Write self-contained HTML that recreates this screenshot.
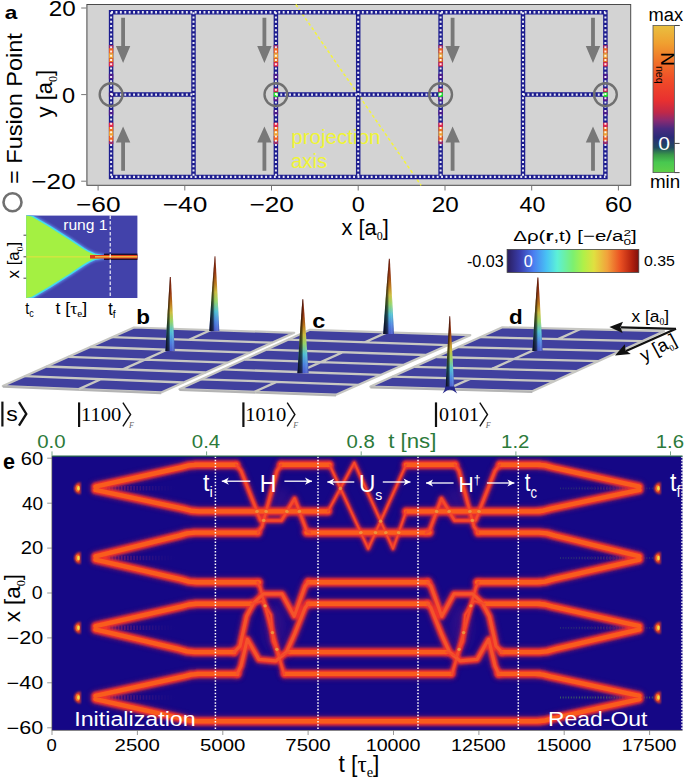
<!DOCTYPE html>
<html><head><meta charset="utf-8"><style>
html,body{margin:0;padding:0;background:#fff;width:685px;height:779px;overflow:hidden}
svg{display:block}
</style></head><body>
<svg width="685" height="779" viewBox="0 0 685 779">
<rect x="86.9" y="4.5" width="543.8" height="180.8" fill="#d3d3d3" stroke="#4a4a4a" stroke-width="1"/>
<text x="0" y="0" font-size="20.3" font-family='"Liberation Sans", sans-serif' fill="#f0f535" transform="matrix(1.0140,0.0000,0.0000,1.0000,291.29,143.60)">projection</text>
<text x="0" y="0" font-size="20.3" font-family='"Liberation Sans", sans-serif' fill="#f0f535" transform="matrix(1.0086,0.0000,0.0000,1.0000,290.89,168.10)">axis</text>
<line x1="295.8" y1="4.5" x2="421.1" y2="185.4" stroke="#f4f43c" stroke-width="1.5" stroke-dasharray="3.2 2.4"/>
<path d="M111.1,12.3 H605.4 V176.9 H111.1 Z M193.5,12.3 V176.9 M275.9,12.3 V176.9 M358.2,12.3 V176.9 M440.6,12.3 V176.9 M523.0,12.3 V176.9 M111.1,94.6 H193.5 M275.9,94.6 H440.6 M523.0,94.6 H605.4" fill="none" stroke="#1c1c8e" stroke-width="4.5" stroke-linejoin="miter"/>
<rect x="108.9" y="45" width="4.4" height="3.1" fill="#9a2a6a"/>
<rect x="108.9" y="141.1" width="4.4" height="3.1" fill="#9a2a6a"/>
<rect x="108.9" y="48.1" width="4.4" height="5.0" fill="#f06020"/>
<rect x="108.9" y="136.1" width="4.4" height="5.0" fill="#f06020"/>
<rect x="108.9" y="53.1" width="4.4" height="5.0" fill="#f0a030"/>
<rect x="108.9" y="131.1" width="4.4" height="5.0" fill="#f0a030"/>
<rect x="108.9" y="58.1" width="4.4" height="4.2" fill="#f07020"/>
<rect x="108.9" y="126.9" width="4.4" height="4.2" fill="#f07020"/>
<rect x="108.9" y="62.3" width="4.4" height="4.2" fill="#e82848"/>
<rect x="108.9" y="122.7" width="4.4" height="4.2" fill="#e82848"/>
<rect x="108.9" y="73.8" width="4.4" height="5.4" fill="#4a1a8a"/>
<rect x="108.9" y="110.0" width="4.4" height="5.4" fill="#4a1a8a"/>
<rect x="108.9" y="92.4" width="4.4" height="4.4" fill="#3a1a7a"/>
<rect x="273.7" y="45" width="4.4" height="3.1" fill="#9a2a6a"/>
<rect x="273.7" y="141.1" width="4.4" height="3.1" fill="#9a2a6a"/>
<rect x="273.7" y="48.1" width="4.4" height="5.0" fill="#f06020"/>
<rect x="273.7" y="136.1" width="4.4" height="5.0" fill="#f06020"/>
<rect x="273.7" y="53.1" width="4.4" height="5.0" fill="#f0a030"/>
<rect x="273.7" y="131.1" width="4.4" height="5.0" fill="#f0a030"/>
<rect x="273.7" y="58.1" width="4.4" height="4.2" fill="#f07020"/>
<rect x="273.7" y="126.9" width="4.4" height="4.2" fill="#f07020"/>
<rect x="273.7" y="62.3" width="4.4" height="4.2" fill="#e82848"/>
<rect x="273.7" y="122.7" width="4.4" height="4.2" fill="#e82848"/>
<rect x="273.7" y="73.8" width="4.4" height="5.4" fill="#4a1a8a"/>
<rect x="273.7" y="110.0" width="4.4" height="5.4" fill="#4a1a8a"/>
<rect x="273.7" y="88.4" width="4.4" height="4" fill="#d02850"/>
<rect x="273.7" y="96.8" width="4.4" height="4" fill="#5a1a8a"/>
<rect x="273.7" y="92.4" width="4.4" height="4.4" fill="#22ee22"/>
<rect x="438.4" y="45" width="4.4" height="3.1" fill="#9a2a6a"/>
<rect x="438.4" y="141.1" width="4.4" height="3.1" fill="#9a2a6a"/>
<rect x="438.4" y="48.1" width="4.4" height="5.0" fill="#f06020"/>
<rect x="438.4" y="136.1" width="4.4" height="5.0" fill="#f06020"/>
<rect x="438.4" y="53.1" width="4.4" height="5.0" fill="#f0a030"/>
<rect x="438.4" y="131.1" width="4.4" height="5.0" fill="#f0a030"/>
<rect x="438.4" y="58.1" width="4.4" height="4.2" fill="#f07020"/>
<rect x="438.4" y="126.9" width="4.4" height="4.2" fill="#f07020"/>
<rect x="438.4" y="62.3" width="4.4" height="4.2" fill="#e82848"/>
<rect x="438.4" y="122.7" width="4.4" height="4.2" fill="#e82848"/>
<rect x="438.4" y="73.8" width="4.4" height="5.4" fill="#4a1a8a"/>
<rect x="438.4" y="110.0" width="4.4" height="5.4" fill="#4a1a8a"/>
<rect x="438.4" y="88.4" width="4.4" height="4" fill="#d02850"/>
<rect x="438.4" y="96.8" width="4.4" height="4" fill="#5a1a8a"/>
<rect x="438.4" y="92.4" width="4.4" height="4.4" fill="#22ee22"/>
<rect x="603.2" y="45" width="4.4" height="3.1" fill="#9a2a6a"/>
<rect x="603.2" y="141.1" width="4.4" height="3.1" fill="#9a2a6a"/>
<rect x="603.2" y="48.1" width="4.4" height="5.0" fill="#f06020"/>
<rect x="603.2" y="136.1" width="4.4" height="5.0" fill="#f06020"/>
<rect x="603.2" y="53.1" width="4.4" height="5.0" fill="#f0a030"/>
<rect x="603.2" y="131.1" width="4.4" height="5.0" fill="#f0a030"/>
<rect x="603.2" y="58.1" width="4.4" height="4.2" fill="#f07020"/>
<rect x="603.2" y="126.9" width="4.4" height="4.2" fill="#f07020"/>
<rect x="603.2" y="62.3" width="4.4" height="4.2" fill="#e82848"/>
<rect x="603.2" y="122.7" width="4.4" height="4.2" fill="#e82848"/>
<rect x="603.2" y="73.8" width="4.4" height="5.4" fill="#4a1a8a"/>
<rect x="603.2" y="110.0" width="4.4" height="5.4" fill="#4a1a8a"/>
<rect x="603.2" y="88.4" width="4.4" height="4" fill="#d02850"/>
<rect x="603.2" y="96.8" width="4.4" height="4" fill="#5a1a8a"/>
<rect x="603.2" y="92.4" width="4.4" height="4.4" fill="#22ee22"/>
<path d="M111.1,12.3 H605.4 M111.1,176.9 H605.4 M111.1,94.6 H193.5 M275.9,94.6 H440.6 M523.0,94.6 H605.4" fill="none" stroke="#ffffff" stroke-width="2.4" stroke-dasharray="1.9 2.5" opacity="0.9"/>
<path d="M111.1,12.3 V176.9 M605.4,12.3 V176.9 M193.5,12.3 V176.9 M275.9,12.3 V176.9 M358.2,12.3 V176.9 M440.6,12.3 V176.9 M523.0,12.3 V176.9" fill="none" stroke="#ffffff" stroke-width="2.0" stroke-dasharray="1.9 2.35" opacity="0.9"/>
<path d="M121.2,17.8 H125.0 V46 H130.3 L123.1,63 L115.9,46 H121.2 Z" fill="#787878"/>
<path d="M121.2,170.8 H125.0 V142.6 H130.3 L123.1,126.6 L115.9,142.6 H121.2 Z" fill="#787878"/>
<path d="M262.5,17.8 H266.3 V46 H271.6 L264.4,63 L257.2,46 H262.5 Z" fill="#787878"/>
<path d="M262.5,170.8 H266.3 V142.6 H271.6 L264.4,126.6 L257.2,142.6 H262.5 Z" fill="#787878"/>
<path d="M450.7,17.8 H454.5 V46 H459.8 L452.6,63 L445.4,46 H450.7 Z" fill="#787878"/>
<path d="M450.7,170.8 H454.5 V142.6 H459.8 L452.6,126.6 L445.4,142.6 H450.7 Z" fill="#787878"/>
<path d="M591.1,17.8 H594.9 V46 H600.2 L593.0,63 L585.8,46 H591.1 Z" fill="#787878"/>
<path d="M591.1,170.8 H594.9 V142.6 H600.2 L593.0,126.6 L585.8,142.6 H591.1 Z" fill="#787878"/>
<circle cx="111.1" cy="94.6" r="11.4" fill="none" stroke="#707070" stroke-width="2.4"/>
<circle cx="275.9" cy="94.6" r="11.4" fill="none" stroke="#707070" stroke-width="2.4"/>
<circle cx="440.6" cy="94.6" r="11.4" fill="none" stroke="#707070" stroke-width="2.4"/>
<circle cx="605.4" cy="94.6" r="11.4" fill="none" stroke="#707070" stroke-width="2.4"/>
<path d="M98.1,185.5 V190.5 M184.8,185.5 V190.5 M271.5,185.5 V190.5 M358.2,185.5 V190.5 M445.0,185.5 V190.5 M531.7,185.5 V190.5 M618.4,185.5 V190.5 M86.5,181.2 H81.2 M86.5,94.6 H81.2 M86.5,8.0 H81.2" stroke="#777" stroke-width="1"/>
<text x="0" y="0" font-size="20.5" font-family='"Liberation Sans", sans-serif' fill="#000" transform="matrix(1.2818,0.0000,0.0000,1.0929,75.96,212.30)">−60</text>
<text x="0" y="0" font-size="20.5" font-family='"Liberation Sans", sans-serif' fill="#000" transform="matrix(1.2818,0.0000,0.0000,1.0929,162.68,212.30)">−40</text>
<text x="0" y="0" font-size="20.5" font-family='"Liberation Sans", sans-serif' fill="#000" transform="matrix(1.2818,0.0000,0.0000,1.0929,249.40,212.30)">−20</text>
<text x="0" y="0" font-size="20.5" font-family='"Liberation Sans", sans-serif' fill="#000" transform="matrix(1.1500,0.0000,0.0000,1.0929,351.65,212.30)">0</text>
<text x="0" y="0" font-size="20.5" font-family='"Liberation Sans", sans-serif' fill="#000" transform="matrix(1.1833,0.0000,0.0000,1.0929,431.66,212.30)">20</text>
<text x="0" y="0" font-size="20.5" font-family='"Liberation Sans", sans-serif' fill="#000" transform="matrix(1.1295,0.0000,0.0000,1.0929,519.57,212.30)">40</text>
<text x="0" y="0" font-size="20.5" font-family='"Liberation Sans", sans-serif' fill="#000" transform="matrix(1.1833,0.0000,0.0000,1.0929,605.10,212.30)">60</text>
<text x="0" y="0" font-size="20.5" font-family='"Liberation Sans", sans-serif' fill="#000" transform="matrix(1.1833,0.0000,0.0000,1.0929,48.67,16.05)">20</text>
<text x="0" y="0" font-size="20.5" font-family='"Liberation Sans", sans-serif' fill="#000" transform="matrix(1.1500,0.0000,0.0000,1.0929,62.05,102.65)">0</text>
<text x="0" y="0" font-size="20.5" font-family='"Liberation Sans", sans-serif' fill="#000" transform="matrix(1.2758,0.0000,0.0000,1.0929,31.32,189.25)">−20</text>
<text x="0" y="0" font-size="20" font-family='"Liberation Sans", sans-serif' fill="#000" transform="matrix(1.0905,0.0000,0.0000,1.0800,341.60,235.10)">x [a<tspan font-size="11" dy="4.5" font-family='"Liberation Serif", serif'>0</tspan><tspan dy="-4.5">]</tspan></text>
<text x="0" y="0" font-size="20" font-family='"Liberation Sans", sans-serif' fill="#000" transform="matrix(0.0000,-1.1000,1.1400,0.0000,51.80,117.40)">y [a<tspan font-size="11" dy="4.5" font-family='"Liberation Serif", serif'>0</tspan><tspan dy="-4.5">]</tspan></text>
<text x="0" y="0" font-size="23" font-family='"Liberation Sans", sans-serif' fill="#000" transform="matrix(0.0000,-1.0218,0.9611,0.0000,21.80,183.92)">= Fusion Point</text>
<circle cx="12.5" cy="202.2" r="9.0" fill="none" stroke="#707070" stroke-width="2.6"/>
<text x="0" y="0" font-size="20" font-family='"Liberation Sans", sans-serif' font-weight="bold" fill="#000" transform="matrix(1.1300,0.0000,0.0000,0.9636,4.77,19.10)">a</text>
<defs><linearGradient id="gN" x1="0" y1="0" x2="0" y2="1"><stop offset="0" stop-color="#e8c040"/><stop offset="0.12" stop-color="#f0a030"/><stop offset="0.25" stop-color="#f07028"/><stop offset="0.38" stop-color="#f04a28"/><stop offset="0.51" stop-color="#e83030"/><stop offset="0.59" stop-color="#c02848"/><stop offset="0.645" stop-color="#8a2a70"/><stop offset="0.7" stop-color="#4a2a80"/><stop offset="0.76" stop-color="#2a2a78"/><stop offset="0.83" stop-color="#204a60"/><stop offset="0.88" stop-color="#3a9a48"/><stop offset="0.93" stop-color="#48c850"/><stop offset="1" stop-color="#60d048"/></linearGradient></defs>
<rect x="653" y="25.5" width="21.4" height="147.1" fill="url(#gN)" stroke="#555" stroke-width="0.8"/>
<path d="M674.4,25.5 H679.8 M674.4,143.4 H679.6 M674.4,172.6 H679.6" stroke="#444" stroke-width="1"/>
<text x="0" y="0" font-size="18.6" font-family='"Liberation Sans", sans-serif' fill="#000" transform="matrix(0.9824,0.0000,0.0000,0.9600,648.62,21.20)">max</text>
<text x="0" y="0" font-size="18.6" font-family='"Liberation Sans", sans-serif' fill="#000" transform="matrix(1.0107,0.0000,0.0000,0.9923,649.89,188.00)">min</text>
<text x="0" y="0" font-size="18" font-family='"Liberation Sans", sans-serif' fill="#fff" transform="matrix(1.1750,0.0000,0.0000,1.0538,658.23,150.00)">0</text>
<text x="0" y="0" font-size="18" font-family='"Liberation Sans", sans-serif' fill="#000" transform="matrix(0.0000,1.0536,-1.0050,0.0000,660.53,52.25)">N<tspan font-size="10" dy="4.5">neq</tspan></text>
<defs><clipPath id="clipE"><rect x="52" y="456" width="630.5" height="274.3"/></clipPath><filter id="bl1" x="-20%" y="-20%" width="140%" height="140%"><feGaussianBlur stdDeviation="1.1"/></filter><filter id="bl2" x="-20%" y="-20%" width="140%" height="140%"><feGaussianBlur stdDeviation="2.2"/></filter><filter id="bl05" x="-20%" y="-20%" width="140%" height="140%"><feGaussianBlur stdDeviation="0.6"/></filter></defs>
<rect x="52" y="456" width="630.5" height="274.3" fill="#150786"/>
<g clip-path="url(#clipE)" fill="none" stroke-linejoin="round" stroke-linecap="round">
<defs><filter id="bl4" x="-50%" y="-50%" width="200%" height="200%"><feGaussianBlur stdDeviation="4"/></filter></defs>
<ellipse cx="275" cy="628" rx="11" ry="24" fill="#5a1a8a" opacity="0.35" filter="url(#bl4)"/>
<ellipse cx="461.0" cy="628" rx="11" ry="24" fill="#5a1a8a" opacity="0.35" filter="url(#bl4)"/>
<ellipse cx="280" cy="500" rx="11" ry="13" fill="#5a1a8a" opacity="0.28" filter="url(#bl4)"/>
<ellipse cx="456.0" cy="500" rx="11" ry="13" fill="#5a1a8a" opacity="0.28" filter="url(#bl4)"/>
<defs><linearGradient id="gFL" gradientUnits="userSpaceOnUse" x1="92" y1="0" x2="176" y2="0"><stop offset="0" stop-color="#d03048" stop-opacity="0.95"/><stop offset="0.35" stop-color="#902868" stop-opacity="0.6"/><stop offset="1" stop-color="#402080" stop-opacity="0"/></linearGradient><linearGradient id="gFR" gradientUnits="userSpaceOnUse" x1="643" y1="0" x2="559" y2="0"><stop offset="0" stop-color="#d03048" stop-opacity="0.95"/><stop offset="0.35" stop-color="#902868" stop-opacity="0.6"/><stop offset="1" stop-color="#402080" stop-opacity="0"/></linearGradient><linearGradient id="gGap" gradientUnits="userSpaceOnUse" x1="80" y1="0" x2="92" y2="0"><stop offset="0" stop-color="#602070" stop-opacity="0.3"/><stop offset="1" stop-color="#a02850" stop-opacity="0.8"/></linearGradient></defs>
<path d="M93,488.3 H176" stroke="url(#gFL)" stroke-width="4.5" stroke-dasharray="1.6 1.5" stroke-linecap="butt"/>
<path d="M642,488.3 H559" stroke="url(#gFR)" stroke-width="4" stroke-dasharray="1.6 1.5" stroke-linecap="butt" opacity="0.55"/>
<path d="M81,488.3 H92" stroke="url(#gGap)" stroke-width="5" stroke-dasharray="1.2 1.6" stroke-linecap="butt" filter="url(#bl05)"/>
<path d="M560,488.3 H653" stroke="#58a048" stroke-opacity="0.25" stroke-width="1.8" stroke-dasharray="1 1.7" stroke-linecap="butt"/>
<path d="M654,488.3 H643" stroke="#702070" stroke-opacity="0.45" stroke-width="5" stroke-dasharray="1.2 1.6" stroke-linecap="butt" filter="url(#bl05)"/>
<path d="M93,558.0 H176" stroke="url(#gFL)" stroke-width="4.5" stroke-dasharray="1.6 1.5" stroke-linecap="butt"/>
<path d="M642,558.0 H559" stroke="url(#gFR)" stroke-width="4" stroke-dasharray="1.6 1.5" stroke-linecap="butt" opacity="0.55"/>
<path d="M81,558.0 H92" stroke="url(#gGap)" stroke-width="5" stroke-dasharray="1.2 1.6" stroke-linecap="butt" filter="url(#bl05)"/>
<path d="M560,558.0 H653" stroke="#58a048" stroke-opacity="0.25" stroke-width="1.8" stroke-dasharray="1 1.7" stroke-linecap="butt"/>
<path d="M654,558.0 H643" stroke="#702070" stroke-opacity="0.45" stroke-width="5" stroke-dasharray="1.2 1.6" stroke-linecap="butt" filter="url(#bl05)"/>
<path d="M93,627.8 H176" stroke="url(#gFL)" stroke-width="4.5" stroke-dasharray="1.6 1.5" stroke-linecap="butt"/>
<path d="M642,627.8 H559" stroke="url(#gFR)" stroke-width="4" stroke-dasharray="1.6 1.5" stroke-linecap="butt" opacity="0.55"/>
<path d="M81,627.8 H92" stroke="url(#gGap)" stroke-width="5" stroke-dasharray="1.2 1.6" stroke-linecap="butt" filter="url(#bl05)"/>
<path d="M560,627.8 H653" stroke="#58a048" stroke-opacity="0.25" stroke-width="1.8" stroke-dasharray="1 1.7" stroke-linecap="butt"/>
<path d="M654,627.8 H643" stroke="#702070" stroke-opacity="0.45" stroke-width="5" stroke-dasharray="1.2 1.6" stroke-linecap="butt" filter="url(#bl05)"/>
<path d="M93,697.5 H176" stroke="url(#gFL)" stroke-width="4.5" stroke-dasharray="1.6 1.5" stroke-linecap="butt"/>
<path d="M642,697.5 H559" stroke="url(#gFR)" stroke-width="4" stroke-dasharray="1.6 1.5" stroke-linecap="butt" opacity="0.55"/>
<path d="M81,697.5 H92" stroke="url(#gGap)" stroke-width="5" stroke-dasharray="1.2 1.6" stroke-linecap="butt" filter="url(#bl05)"/>
<path d="M560,697.5 H653" stroke="#58a048" stroke-opacity="0.55" stroke-width="1.8" stroke-dasharray="1 1.7" stroke-linecap="butt"/>
<path d="M654,697.5 H643" stroke="#702070" stroke-opacity="0.45" stroke-width="5" stroke-dasharray="1.2 1.6" stroke-linecap="butt" filter="url(#bl05)"/>
<path d="M95.5,486.7 L181.0,467.5 L189.0,465.4 L197.0,464.7 M639.4,486.7 L553.0,467.5 L545.0,465.4 L537.0,464.7 M95.5,489.9 L183.0,508.6 L191.0,510.7 L199.0,511.4 M639.4,489.9 L551.0,508.6 L543.0,510.7 L535.0,511.4 M95.5,556.4 L179.0,535.6 L187.0,533.4 L195.0,532.6 M639.4,556.4 L555.0,535.6 L547.0,533.4 L539.0,532.6 M95.5,559.6 L181.0,579.4 L189.0,581.6 L197.0,582.3 M639.4,559.6 L553.0,579.4 L545.0,581.6 L537.0,582.3 M95.5,626.2 L181.0,606.7 L189.0,604.5 L197.0,603.8 M639.4,626.2 L553.0,606.7 L545.0,604.5 L537.0,603.8 M95.5,629.4 L179.0,649.2 L187.0,651.4 L195.0,652.1 M639.4,629.4 L555.0,649.2 L547.0,651.4 L539.0,652.1 M95.5,695.9 L183.0,676.7 L191.0,674.6 L199.0,673.9 M639.4,695.9 L551.0,676.7 L543.0,674.6 L535.0,673.9 M95.5,699.1 L181.0,718.4 L189.0,720.5 L197.0,721.2 M639.4,699.1 L553.0,718.4 L545.0,720.5 L537.0,721.2 M195.0,464.7 L236.2,464.7 M281.0,464.7 L329.5,464.7 M406.1,464.7 L455.0,464.7 M499.8,464.7 L540.0,464.7 M197.0,511.4 L328.0,511.4 M406.1,511.4 L540.0,511.4 M193.0,532.6 L257.9,532.6 M306.5,532.6 L429.5,532.6 M478.1,532.6 L540.0,532.6 M195.0,582.3 L258.9,582.3 M308.2,582.3 L427.8,582.3 M477.1,582.3 L540.0,582.3 M195.0,603.8 L251.2,603.8 M308.2,603.8 L427.8,603.8 M484.8,603.8 L540.0,603.8 M193.0,652.1 L234.2,652.1 M289.7,652.1 L446.3,652.1 M501.8,652.1 L540.0,652.1 M197.0,673.9 L237.3,673.9 M285.0,673.9 L451.0,673.9 M498.7,673.9 L540.0,673.9 M195.0,721.2 L540.0,721.2" stroke="#8a1a62" stroke-width="11.5" opacity="0.6" filter="url(#bl2)"/>
<path d="M236.2,464.7 L241.0,470.7 L260.5,520.4 L281.5,520.4 L294.6,498.5 L306.5,530.6 L310.0,532.6 M499.8,464.7 L495.0,470.7 L475.5,520.4 L454.5,520.4 L441.4,498.5 L429.5,530.6 L426.0,532.6 M257.9,532.6 L262.0,526.6 L277.0,470.7 L281.0,464.7 M478.1,532.6 L474.0,526.6 L459.0,470.7 L455.0,464.7 M257.5,582.3 L260.0,587.0 L279.5,659.0 L284.0,673.9 M478.5,582.3 L476.0,587.0 L456.5,659.0 L452.0,673.9" stroke="#8a1a62" stroke-width="8.5" opacity="0.55" filter="url(#bl2)"/>
<path d="M251.2,603.8 L262.0,601.0 L271.0,615.0 L273.0,641.0 L280.0,656.0 L289.7,652.1 M484.8,603.8 L474.0,601.0 L465.0,615.0 L463.0,641.0 L456.0,656.0 L446.3,652.1 M329.5,464.7 L368.2,548.7 L406.1,464.7 M328.0,511.4 L354.3,462.6 L393.0,548.7 L406.1,511.4" stroke="#8a1a62" stroke-width="7" opacity="0.5" filter="url(#bl2)"/>
<path d="M234.2,652.1 L240.0,646.1 L246.6,616.2 L253.5,603.1 L263.5,593.9 L282.0,593.9 L294.3,616.2 L305.0,586.3 L308.2,582.3 M501.8,652.1 L496.0,646.1 L489.4,616.2 L482.5,603.1 L472.5,593.9 L454.0,593.9 L441.7,616.2 L431.0,586.3 L427.8,582.3 M237.3,673.9 L241.0,665.9 L247.3,639.3 L258.9,659.4 L275.8,660.9 L286.6,652.0 L294.3,634.7 L305.0,607.8 L308.2,603.8 M498.7,673.9 L495.0,665.9 L488.7,639.3 L477.1,659.4 L460.2,660.9 L449.4,652.0 L441.7,634.7 L431.0,607.8 L427.8,603.8" stroke="#8a1a62" stroke-width="10.5" opacity="0.55" filter="url(#bl2)"/>
<path d="M95.5,486.7 L181.0,467.5 L189.0,465.4 L197.0,464.7 M639.4,486.7 L553.0,467.5 L545.0,465.4 L537.0,464.7 M95.5,489.9 L183.0,508.6 L191.0,510.7 L199.0,511.4 M639.4,489.9 L551.0,508.6 L543.0,510.7 L535.0,511.4 M95.5,556.4 L179.0,535.6 L187.0,533.4 L195.0,532.6 M639.4,556.4 L555.0,535.6 L547.0,533.4 L539.0,532.6 M95.5,559.6 L181.0,579.4 L189.0,581.6 L197.0,582.3 M639.4,559.6 L553.0,579.4 L545.0,581.6 L537.0,582.3 M95.5,626.2 L181.0,606.7 L189.0,604.5 L197.0,603.8 M639.4,626.2 L553.0,606.7 L545.0,604.5 L537.0,603.8 M95.5,629.4 L179.0,649.2 L187.0,651.4 L195.0,652.1 M639.4,629.4 L555.0,649.2 L547.0,651.4 L539.0,652.1 M95.5,695.9 L183.0,676.7 L191.0,674.6 L199.0,673.9 M639.4,695.9 L551.0,676.7 L543.0,674.6 L535.0,673.9 M95.5,699.1 L181.0,718.4 L189.0,720.5 L197.0,721.2 M639.4,699.1 L553.0,718.4 L545.0,720.5 L537.0,721.2 M195.0,464.7 L236.2,464.7 M281.0,464.7 L329.5,464.7 M406.1,464.7 L455.0,464.7 M499.8,464.7 L540.0,464.7 M197.0,511.4 L328.0,511.4 M406.1,511.4 L540.0,511.4 M193.0,532.6 L257.9,532.6 M306.5,532.6 L429.5,532.6 M478.1,532.6 L540.0,532.6 M195.0,582.3 L258.9,582.3 M308.2,582.3 L427.8,582.3 M477.1,582.3 L540.0,582.3 M195.0,603.8 L251.2,603.8 M308.2,603.8 L427.8,603.8 M484.8,603.8 L540.0,603.8 M193.0,652.1 L234.2,652.1 M289.7,652.1 L446.3,652.1 M501.8,652.1 L540.0,652.1 M197.0,673.9 L237.3,673.9 M285.0,673.9 L451.0,673.9 M498.7,673.9 L540.0,673.9 M195.0,721.2 L540.0,721.2" stroke="#f0302a" stroke-width="8.4" filter="url(#bl1)"/>
<path d="M236.2,464.7 L241.0,470.7 L260.5,520.4 L281.5,520.4 L294.6,498.5 L306.5,530.6 L310.0,532.6 M499.8,464.7 L495.0,470.7 L475.5,520.4 L454.5,520.4 L441.4,498.5 L429.5,530.6 L426.0,532.6 M257.9,532.6 L262.0,526.6 L277.0,470.7 L281.0,464.7 M478.1,532.6 L474.0,526.6 L459.0,470.7 L455.0,464.7 M257.5,582.3 L260.0,587.0 L279.5,659.0 L284.0,673.9 M478.5,582.3 L476.0,587.0 L456.5,659.0 L452.0,673.9" stroke="#f0302a" stroke-width="5.4" filter="url(#bl1)"/>
<path d="M251.2,603.8 L262.0,601.0 L271.0,615.0 L273.0,641.0 L280.0,656.0 L289.7,652.1 M484.8,603.8 L474.0,601.0 L465.0,615.0 L463.0,641.0 L456.0,656.0 L446.3,652.1 M329.5,464.7 L368.2,548.7 L406.1,464.7 M328.0,511.4 L354.3,462.6 L393.0,548.7 L406.1,511.4" stroke="#f0302a" stroke-width="4.2" filter="url(#bl1)"/>
<path d="M234.2,652.1 L240.0,646.1 L246.6,616.2 L253.5,603.1 L263.5,593.9 L282.0,593.9 L294.3,616.2 L305.0,586.3 L308.2,582.3 M501.8,652.1 L496.0,646.1 L489.4,616.2 L482.5,603.1 L472.5,593.9 L454.0,593.9 L441.7,616.2 L431.0,586.3 L427.8,582.3 M237.3,673.9 L241.0,665.9 L247.3,639.3 L258.9,659.4 L275.8,660.9 L286.6,652.0 L294.3,634.7 L305.0,607.8 L308.2,603.8 M498.7,673.9 L495.0,665.9 L488.7,639.3 L477.1,659.4 L460.2,660.9 L449.4,652.0 L441.7,634.7 L431.0,607.8 L427.8,603.8" stroke="#f0302a" stroke-width="7.0" filter="url(#bl1)"/>
<path d="M95.5,486.7 L181.0,467.5 L189.0,465.4 L197.0,464.7 M639.4,486.7 L553.0,467.5 L545.0,465.4 L537.0,464.7 M95.5,489.9 L183.0,508.6 L191.0,510.7 L199.0,511.4 M639.4,489.9 L551.0,508.6 L543.0,510.7 L535.0,511.4 M95.5,556.4 L179.0,535.6 L187.0,533.4 L195.0,532.6 M639.4,556.4 L555.0,535.6 L547.0,533.4 L539.0,532.6 M95.5,559.6 L181.0,579.4 L189.0,581.6 L197.0,582.3 M639.4,559.6 L553.0,579.4 L545.0,581.6 L537.0,582.3 M95.5,626.2 L181.0,606.7 L189.0,604.5 L197.0,603.8 M639.4,626.2 L553.0,606.7 L545.0,604.5 L537.0,603.8 M95.5,629.4 L179.0,649.2 L187.0,651.4 L195.0,652.1 M639.4,629.4 L555.0,649.2 L547.0,651.4 L539.0,652.1 M95.5,695.9 L183.0,676.7 L191.0,674.6 L199.0,673.9 M639.4,695.9 L551.0,676.7 L543.0,674.6 L535.0,673.9 M95.5,699.1 L181.0,718.4 L189.0,720.5 L197.0,721.2 M639.4,699.1 L553.0,718.4 L545.0,720.5 L537.0,721.2 M195.0,464.7 L236.2,464.7 M281.0,464.7 L329.5,464.7 M406.1,464.7 L455.0,464.7 M499.8,464.7 L540.0,464.7 M197.0,511.4 L328.0,511.4 M406.1,511.4 L540.0,511.4 M193.0,532.6 L257.9,532.6 M306.5,532.6 L429.5,532.6 M478.1,532.6 L540.0,532.6 M195.0,582.3 L258.9,582.3 M308.2,582.3 L427.8,582.3 M477.1,582.3 L540.0,582.3 M195.0,603.8 L251.2,603.8 M308.2,603.8 L427.8,603.8 M484.8,603.8 L540.0,603.8 M193.0,652.1 L234.2,652.1 M289.7,652.1 L446.3,652.1 M501.8,652.1 L540.0,652.1 M197.0,673.9 L237.3,673.9 M285.0,673.9 L451.0,673.9 M498.7,673.9 L540.0,673.9 M195.0,721.2 L540.0,721.2" stroke="#f95c1e" stroke-width="4.4" filter="url(#bl05)"/>
<path d="M236.2,464.7 L241.0,470.7 L260.5,520.4 L281.5,520.4 L294.6,498.5 L306.5,530.6 L310.0,532.6 M499.8,464.7 L495.0,470.7 L475.5,520.4 L454.5,520.4 L441.4,498.5 L429.5,530.6 L426.0,532.6 M257.9,532.6 L262.0,526.6 L277.0,470.7 L281.0,464.7 M478.1,532.6 L474.0,526.6 L459.0,470.7 L455.0,464.7 M257.5,582.3 L260.0,587.0 L279.5,659.0 L284.0,673.9 M478.5,582.3 L476.0,587.0 L456.5,659.0 L452.0,673.9" stroke="#f4482a" stroke-width="2.5" filter="url(#bl05)"/>
<path d="M234.2,652.1 L240.0,646.1 L246.6,616.2 L253.5,603.1 L263.5,593.9 L282.0,593.9 L294.3,616.2 L305.0,586.3 L308.2,582.3 M501.8,652.1 L496.0,646.1 L489.4,616.2 L482.5,603.1 L472.5,593.9 L454.0,593.9 L441.7,616.2 L431.0,586.3 L427.8,582.3 M237.3,673.9 L241.0,665.9 L247.3,639.3 L258.9,659.4 L275.8,660.9 L286.6,652.0 L294.3,634.7 L305.0,607.8 L308.2,603.8 M498.7,673.9 L495.0,665.9 L488.7,639.3 L477.1,659.4 L460.2,660.9 L449.4,652.0 L441.7,634.7 L431.0,607.8 L427.8,603.8" stroke="#f5522a" stroke-width="3.2" filter="url(#bl05)"/>
<path d="M251.2,603.8 L262.0,601.0 L271.0,615.0 L273.0,641.0 L280.0,656.0 L289.7,652.1 M484.8,603.8 L474.0,601.0 L465.0,615.0 L463.0,641.0 L456.0,656.0 L446.3,652.1 M329.5,464.7 L368.2,548.7 L406.1,464.7 M328.0,511.4 L354.3,462.6 L393.0,548.7 L406.1,511.4" stroke="#f4482a" stroke-width="1.8" filter="url(#bl05)"/>
<path d="M80.5,482.3 A6.2,6 0 0 0 80.5,494.3 Z" fill="#f0401f" filter="url(#bl1)"/>
<ellipse cx="77.8" cy="488.3" rx="2.2" ry="3.4" fill="#f46a2a" filter="url(#bl05)"/>
<ellipse cx="78.4" cy="488.3" rx="1.3" ry="2.2" fill="#f4d848" filter="url(#bl05)"/>
<path d="M660.5,482.3 A6.2,6 0 0 0 660.5,494.3 Z" fill="#f0401f" filter="url(#bl1)"/>
<ellipse cx="657.8" cy="488.3" rx="2.2" ry="3.4" fill="#f46a2a" filter="url(#bl05)"/>
<ellipse cx="658.4" cy="488.3" rx="1.3" ry="2.2" fill="#f4d848" filter="url(#bl05)"/>
<path d="M80.5,552.0 A6.2,6 0 0 0 80.5,564.0 Z" fill="#f0401f" filter="url(#bl1)"/>
<ellipse cx="77.8" cy="558.0" rx="2.2" ry="3.4" fill="#f46a2a" filter="url(#bl05)"/>
<ellipse cx="78.4" cy="558.0" rx="1.3" ry="2.2" fill="#f4d848" filter="url(#bl05)"/>
<path d="M660.5,552.0 A6.2,6 0 0 0 660.5,564.0 Z" fill="#f0401f" filter="url(#bl1)"/>
<ellipse cx="657.8" cy="558.0" rx="2.2" ry="3.4" fill="#f46a2a" filter="url(#bl05)"/>
<ellipse cx="658.4" cy="558.0" rx="1.3" ry="2.2" fill="#f4d848" filter="url(#bl05)"/>
<path d="M80.5,621.8 A6.2,6 0 0 0 80.5,633.8 Z" fill="#f0401f" filter="url(#bl1)"/>
<ellipse cx="77.8" cy="627.8" rx="2.2" ry="3.4" fill="#f46a2a" filter="url(#bl05)"/>
<ellipse cx="78.4" cy="627.8" rx="1.3" ry="2.2" fill="#f4d848" filter="url(#bl05)"/>
<path d="M660.5,621.8 A6.2,6 0 0 0 660.5,633.8 Z" fill="#f0401f" filter="url(#bl1)"/>
<ellipse cx="657.8" cy="627.8" rx="2.2" ry="3.4" fill="#f46a2a" filter="url(#bl05)"/>
<ellipse cx="658.4" cy="627.8" rx="1.3" ry="2.2" fill="#f4d848" filter="url(#bl05)"/>
<path d="M80.5,691.5 A6.2,6 0 0 0 80.5,703.5 Z" fill="#f0401f" filter="url(#bl1)"/>
<ellipse cx="77.8" cy="697.5" rx="2.2" ry="3.4" fill="#f46a2a" filter="url(#bl05)"/>
<ellipse cx="78.4" cy="697.5" rx="1.3" ry="2.2" fill="#f4d848" filter="url(#bl05)"/>
<path d="M660.5,691.5 A6.2,6 0 0 0 660.5,703.5 Z" fill="#f0401f" filter="url(#bl1)"/>
<ellipse cx="657.8" cy="697.5" rx="2.2" ry="3.4" fill="#f46a2a" filter="url(#bl05)"/>
<ellipse cx="658.4" cy="697.5" rx="1.3" ry="2.2" fill="#f4d848" filter="url(#bl05)"/>
<ellipse cx="257.0" cy="511.4" rx="1.8" ry="1.6" fill="#e8d850" opacity="0.5" filter="url(#bl05)"/>
<ellipse cx="286.9" cy="511.4" rx="1.8" ry="1.6" fill="#e8d850" opacity="0.5" filter="url(#bl05)"/>
<ellipse cx="299.4" cy="511.4" rx="1.8" ry="1.6" fill="#e8d850" opacity="0.5" filter="url(#bl05)"/>
<ellipse cx="266.1" cy="511.4" rx="1.8" ry="1.6" fill="#e8d850" opacity="0.5" filter="url(#bl05)"/>
<ellipse cx="479.0" cy="511.4" rx="1.8" ry="1.6" fill="#e8d850" opacity="0.5" filter="url(#bl05)"/>
<ellipse cx="449.1" cy="511.4" rx="1.8" ry="1.6" fill="#e8d850" opacity="0.5" filter="url(#bl05)"/>
<ellipse cx="436.6" cy="511.4" rx="1.8" ry="1.6" fill="#e8d850" opacity="0.5" filter="url(#bl05)"/>
<ellipse cx="469.9" cy="511.4" rx="1.8" ry="1.6" fill="#e8d850" opacity="0.5" filter="url(#bl05)"/>
<ellipse cx="360.8" cy="532.6" rx="1.8" ry="1.6" fill="#e8d850" opacity="0.5" filter="url(#bl05)"/>
<ellipse cx="375.5" cy="532.6" rx="1.8" ry="1.6" fill="#e8d850" opacity="0.5" filter="url(#bl05)"/>
<ellipse cx="385.8" cy="532.6" rx="1.8" ry="1.6" fill="#e8d850" opacity="0.5" filter="url(#bl05)"/>
<ellipse cx="398.7" cy="532.6" rx="1.8" ry="1.6" fill="#e8d850" opacity="0.5" filter="url(#bl05)"/>
<ellipse cx="263.7" cy="520.4" rx="1.8" ry="1.6" fill="#e8d850" opacity="0.5" filter="url(#bl05)"/>
<ellipse cx="472.3" cy="520.4" rx="1.8" ry="1.6" fill="#e8d850" opacity="0.5" filter="url(#bl05)"/>
<ellipse cx="265.1" cy="605.8" rx="1.8" ry="1.6" fill="#e8d850" opacity="0.5" filter="url(#bl05)"/>
<ellipse cx="272.4" cy="632.6" rx="1.8" ry="1.6" fill="#e8d850" opacity="0.5" filter="url(#bl05)"/>
<ellipse cx="276.9" cy="649.3" rx="1.8" ry="1.6" fill="#e8d850" opacity="0.5" filter="url(#bl05)"/>
<ellipse cx="470.9" cy="605.8" rx="1.8" ry="1.6" fill="#e8d850" opacity="0.5" filter="url(#bl05)"/>
<ellipse cx="463.6" cy="632.6" rx="1.8" ry="1.6" fill="#e8d850" opacity="0.5" filter="url(#bl05)"/>
<ellipse cx="459.1" cy="649.3" rx="1.8" ry="1.6" fill="#e8d850" opacity="0.5" filter="url(#bl05)"/>
<ellipse cx="340.4" cy="488.4" rx="1.8" ry="1.6" fill="#e8d850" opacity="0.5" filter="url(#bl05)"/>
<ellipse cx="380.6" cy="521.2" rx="1.8" ry="1.6" fill="#e8d850" opacity="0.5" filter="url(#bl05)"/>
</g>
<path d="M215.4,456.5 V730 M318,456.5 V730 M418,456.5 V730 M518.3,456.5 V730 M682,456.5 V730" stroke="#ffffff" stroke-width="1.5" stroke-dasharray="1.5 1.65"/>
<line x1="52" y1="456.2" x2="682.5" y2="456.2" stroke="#2a6a4a" stroke-width="1.2"/>
<path d="M52.0,730.3 V735 M137.4,730.3 V735 M222.8,730.3 V735 M308.1,730.3 V735 M393.5,730.3 V735 M478.9,730.3 V735 M564.2,730.3 V735 M649.6,730.3 V735 M52,727.8 H47.2 M52,682.8 H47.2 M52,637.9 H47.2 M52,593.0 H47.2 M52,548.1 H47.2 M52,503.2 H47.2 M52,458.2 H47.2" stroke="#999" stroke-width="1"/>
<path d="M51.8,456 V730.4 H682.5" fill="none" stroke="#6a6a5a" stroke-width="0.7"/>
<path d="M52.0,456 V451.4 M206.6,456 V451.4 M361.2,456 V451.4 M515.9,456 V451.4 M670.5,456 V451.4" stroke="#7aa88a" stroke-width="1"/>
<text x="0" y="0" font-size="17" font-family='"Liberation Sans", sans-serif' fill="#2c7a3a" transform="matrix(1.2000,0.0000,0.0000,1.0250,37.20,447.80)">0.0</text>
<text x="0" y="0" font-size="17" font-family='"Liberation Sans", sans-serif' fill="#2c7a3a" transform="matrix(1.2000,0.0000,0.0000,1.0250,191.83,447.80)">0.4</text>
<text x="0" y="0" font-size="17" font-family='"Liberation Sans", sans-serif' fill="#2c7a3a" transform="matrix(1.2000,0.0000,0.0000,1.0250,346.45,447.80)">0.8</text>
<text x="0" y="0" font-size="17" font-family='"Liberation Sans", sans-serif' fill="#2c7a3a" transform="matrix(1.2000,0.0000,0.0000,1.0250,501.08,447.80)">1.2</text>
<text x="0" y="0" font-size="17" font-family='"Liberation Sans", sans-serif' fill="#2c7a3a" transform="matrix(1.2000,0.0000,0.0000,1.0250,655.70,447.80)">1.6</text>
<text x="0" y="0" font-size="20" font-family='"Liberation Sans", sans-serif' fill="#2c7a3a" transform="matrix(1.1119,0.0000,0.0000,1.0000,388.20,448.10)">t [ns]</text>
<text x="0" y="0" font-size="17" font-family='"Liberation Sans", sans-serif' fill="#000" transform="matrix(1.0875,0.0000,0.0000,1.0000,46.56,750.60)">0</text>
<text x="0" y="0" font-size="17" font-family='"Liberation Sans", sans-serif' fill="#000" transform="matrix(1.2000,0.0000,0.0000,1.0000,114.58,750.60)">2500</text>
<text x="0" y="0" font-size="17" font-family='"Liberation Sans", sans-serif' fill="#000" transform="matrix(1.2000,0.0000,0.0000,1.0000,199.95,750.60)">5000</text>
<text x="0" y="0" font-size="17" font-family='"Liberation Sans", sans-serif' fill="#000" transform="matrix(1.2000,0.0000,0.0000,1.0000,285.32,750.60)">7500</text>
<text x="0" y="0" font-size="17" font-family='"Liberation Sans", sans-serif' fill="#000" transform="matrix(1.1587,0.0000,0.0000,1.0000,365.69,750.60)">10000</text>
<text x="0" y="0" font-size="17" font-family='"Liberation Sans", sans-serif' fill="#000" transform="matrix(1.1587,0.0000,0.0000,1.0000,451.07,750.60)">12500</text>
<text x="0" y="0" font-size="17" font-family='"Liberation Sans", sans-serif' fill="#000" transform="matrix(1.1587,0.0000,0.0000,1.0000,536.44,750.60)">15000</text>
<text x="0" y="0" font-size="17" font-family='"Liberation Sans", sans-serif' fill="#000" transform="matrix(1.1587,0.0000,0.0000,1.0000,621.82,750.60)">17500</text>
<text x="0" y="0" font-size="17" font-family='"Liberation Sans", sans-serif' fill="#000" transform="matrix(1.2704,0.0000,0.0000,1.0333,6.53,734.16)">−60</text>
<text x="0" y="0" font-size="17" font-family='"Liberation Sans", sans-serif' fill="#000" transform="matrix(1.2704,0.0000,0.0000,1.0333,6.53,689.24)">−40</text>
<text x="0" y="0" font-size="17" font-family='"Liberation Sans", sans-serif' fill="#000" transform="matrix(1.2704,0.0000,0.0000,1.0333,6.53,644.32)">−20</text>
<text x="0" y="0" font-size="17" font-family='"Liberation Sans", sans-serif' fill="#000" transform="matrix(1.1500,0.0000,0.0000,1.0333,31.75,599.40)">0</text>
<text x="0" y="0" font-size="17" font-family='"Liberation Sans", sans-serif' fill="#000" transform="matrix(1.1882,0.0000,0.0000,1.0333,20.71,554.48)">20</text>
<text x="0" y="0" font-size="17" font-family='"Liberation Sans", sans-serif' fill="#000" transform="matrix(1.1222,0.0000,0.0000,1.0333,21.90,509.56)">40</text>
<text x="0" y="0" font-size="17" font-family='"Liberation Sans", sans-serif' fill="#000" transform="matrix(1.1882,0.0000,0.0000,1.0333,20.71,464.64)">60</text>
<text x="0" y="0" font-size="19" font-family='"Liberation Sans", sans-serif' fill="#000" transform="matrix(1.2030,0.0000,0.0000,1.2353,338.40,772.06)">t [<tspan font-family='"Liberation Serif", serif'>&#964;</tspan><tspan font-size="12" dy="4" font-family='"Liberation Serif", serif'>e</tspan><tspan dy="-4">]</tspan></text>
<text x="0" y="0" font-size="20" font-family='"Liberation Sans", sans-serif' fill="#000" transform="matrix(0.0000,-1.1167,1.1050,0.0000,20.18,622.30)">x [a<tspan font-size="11" dy="4.5" font-family='"Liberation Serif", serif'>0</tspan><tspan dy="-4.5">]</tspan></text>
<text x="0" y="0" font-size="22" font-family='"Liberation Sans", sans-serif' font-weight="bold" fill="#000" transform="matrix(0.9818,0.0000,0.0000,1.0083,3.02,468.80)">e</text>
<text x="0" y="0" font-size="21.5" font-family='"Liberation Sans", sans-serif' fill="#fff" transform="matrix(1.0817,0.0000,0.0000,0.9750,74.24,726.20)">Initialization</text>
<text x="0" y="0" font-size="21.5" font-family='"Liberation Sans", sans-serif' fill="#fff" transform="matrix(1.0670,0.0000,0.0000,0.9625,548.07,726.40)">Read-Out</text>
<text x="0" y="0" font-size="22" font-family='"Liberation Sans", sans-serif' fill="#fff" transform="matrix(1.0556,0.0000,0.0000,1.0650,203.00,490.61)">t<tspan font-size="14" dy="6">i</tspan></text>
<text x="0" y="0" font-size="22" font-family='"Liberation Sans", sans-serif' fill="#fff" transform="matrix(0.9231,0.0000,0.0000,1.1350,524.80,490.89)">t<tspan font-size="14" dy="6">c</tspan></text>
<text x="0" y="0" font-size="22" font-family='"Liberation Sans", sans-serif' fill="#fff" transform="matrix(1.0500,0.0000,0.0000,1.1350,670.10,490.59)">t<tspan font-size="14" dy="6">f</tspan></text>
<text x="0" y="0" font-size="22.5" font-family='"Liberation Sans", sans-serif' fill="#fff" transform="matrix(1.0231,0.0000,0.0000,1.0733,259.65,492.00)">H</text>
<text x="0" y="0" font-size="22.5" font-family='"Liberation Sans", sans-serif' fill="#fff" transform="matrix(1.0048,0.0000,0.0000,1.0636,358.89,492.35)">U<tspan font-size="14" dy="7">s</tspan></text>
<text x="0" y="0" font-size="22.5" font-family='"Liberation Sans", sans-serif' fill="#fff" transform="matrix(0.9381,0.0000,0.0000,0.9412,458.42,492.00)">H<tspan font-size="13" dy="-8">&#8224;</tspan></text>
<line x1="250.3" y1="481.2" x2="221.8" y2="481.2" stroke="#fff" stroke-width="1.3"/>
<path d="M221.8,481.2 L228.8,477.59999999999997 L226.8,481.2 L228.8,484.8 Z" fill="#fff"/>
<line x1="284.4" y1="481.2" x2="312" y2="481.2" stroke="#fff" stroke-width="1.3"/>
<path d="M312,481.2 L305,477.59999999999997 L307,481.2 L305,484.8 Z" fill="#fff"/>
<line x1="354.3" y1="482" x2="327.3" y2="482" stroke="#fff" stroke-width="1.3"/>
<path d="M327.3,482 L334.3,478.4 L332.3,482 L334.3,485.6 Z" fill="#fff"/>
<line x1="382.8" y1="482" x2="410.5" y2="482" stroke="#fff" stroke-width="1.3"/>
<path d="M410.5,482 L403.5,478.4 L405.5,482 L403.5,485.6 Z" fill="#fff"/>
<line x1="453.6" y1="483" x2="426" y2="483" stroke="#fff" stroke-width="1.3"/>
<path d="M426,483 L433,479.4 L431,483 L433,486.6 Z" fill="#fff"/>
<line x1="486.9" y1="483" x2="514.4" y2="483" stroke="#fff" stroke-width="1.3"/>
<path d="M514.4,483 L507.4,479.4 L509.4,483 L507.4,486.6 Z" fill="#fff"/>
<defs><clipPath id="clipI"><rect x="26.2" y="215.6" width="111.2" height="82.4"/></clipPath><filter id="blI" x="-10%" y="-10%" width="120%" height="120%"><feGaussianBlur stdDeviation="1.2"/></filter></defs>
<rect x="26.2" y="215.6" width="111.2" height="82.4" fill="#4242aa"/>
<g clip-path="url(#clipI)">
<path d="M20.0,210.0 L26.2,213.0 L29.0,215.8 L33.0,216.6 L50.0,226.5 L70.0,239.2 L84.0,248.6 L89.0,251.6 L95.0,254.3 L104.0,256.0 L104.0,257.6 L95.0,259.3 L89.0,262.0 L84.0,265.0 L70.0,274.4 L50.0,287.1 L33.0,297.0 L29.0,297.8 L26.2,300.6 L20.0,303.6 Z" fill="#5a80e0" stroke="#5a80e0" stroke-width="4" stroke-linejoin="round" filter="url(#blI)"/>
<path d="M20.0,210.0 L26.2,213.0 L29.0,215.8 L33.0,216.6 L50.0,226.5 L70.0,239.2 L84.0,248.6 L89.0,251.6 L95.0,254.3 L104.0,256.0 L104.0,257.6 L95.0,259.3 L89.0,262.0 L84.0,265.0 L70.0,274.4 L50.0,287.1 L33.0,297.0 L29.0,297.8 L26.2,300.6 L20.0,303.6 Z" fill="#44dcec" stroke="#44dcec" stroke-width="1.6" stroke-linejoin="round" filter="url(#bl05)"/>
<path d="M20.0,210.0 L26.2,213.0 L29.0,215.8 L33.0,216.6 L50.0,226.5 L70.0,239.2 L84.0,248.6 L89.0,251.6 L95.0,254.3 L104.0,256.0 L104.0,257.6 L95.0,259.3 L89.0,262.0 L84.0,265.0 L70.0,274.4 L50.0,287.1 L33.0,297.0 L29.0,297.8 L26.2,300.6 L20.0,303.6 Z" fill="#a4f042" stroke="#a4f042" stroke-width="0" transform="translate(-1.6,0)" filter="url(#bl05)"/>
<line x1="26" y1="256.8" x2="95" y2="256.8" stroke="#e8e040" stroke-width="1.2" opacity="0.8"/>
<rect x="104" y="253.6" width="34" height="6.4" fill="#1a1030"/>
<rect x="90" y="255.0" width="48" height="3.6" fill="#e03a1c" filter="url(#bl05)"/>
<rect x="95" y="256.1" width="43" height="1.4" fill="#f0c040"/>
</g>
<line x1="110.2" y1="215.6" x2="110.2" y2="298" stroke="#fff" stroke-width="1.1" stroke-dasharray="3.5 2"/>
<path d="M26.2,235.2 H23.5 M26.2,256.8 H23.5 M26.2,278.2 H23.5" stroke="#444" stroke-width="1"/>
<text x="0" y="0" font-size="15.5" font-family='"Liberation Sans", sans-serif' fill="#fff" transform="matrix(1.0095,0.0000,0.0000,0.9308,63.19,230.41)">rung 1</text>
<text x="0" y="0" font-size="16" font-family='"Liberation Sans", sans-serif' fill="#000" transform="matrix(0.0000,-1.0500,1.0125,0.0000,19.15,278.40)">x [a<tspan font-size="9" dy="3.5" font-family='"Liberation Serif", serif'>0</tspan><tspan dy="-3.5">]</tspan></text>
<text x="0" y="0" font-size="16" font-family='"Liberation Sans", sans-serif' fill="#000" transform="matrix(0.9000,0.0000,0.0000,1.0643,25.20,313.71)">t<tspan font-size="10" dy="3">c</tspan></text>
<text x="0" y="0" font-size="16" font-family='"Liberation Sans", sans-serif' fill="#000" transform="matrix(1.0286,0.0000,0.0000,1.1571,108.20,314.63)">t<tspan font-size="10" dy="3">f</tspan></text>
<text x="0" y="0" font-size="16" font-family='"Liberation Sans", sans-serif' fill="#000" transform="matrix(1.1071,0.0000,0.0000,1.0733,55.40,314.18)">t [<tspan font-family='"Liberation Serif", serif'>&#964;</tspan><tspan font-size="10" dy="3" font-family='"Liberation Serif", serif'>e</tspan><tspan dy="-3">]</tspan></text>
<defs><linearGradient id="gR" x1="0" y1="0" x2="1" y2="0"><stop offset="0" stop-color="#2a1e5e"/><stop offset="0.1" stop-color="#3a3eae"/><stop offset="0.2" stop-color="#4a7ef0"/><stop offset="0.3" stop-color="#48c2f4"/><stop offset="0.38" stop-color="#5cf0d8"/><stop offset="0.5" stop-color="#7cf070"/><stop offset="0.58" stop-color="#b0f048"/><stop offset="0.66" stop-color="#e0e040"/><stop offset="0.76" stop-color="#f2a23c"/><stop offset="0.86" stop-color="#ea5022"/><stop offset="0.95" stop-color="#b0200e"/><stop offset="1" stop-color="#7e100c"/></linearGradient></defs>
<rect x="507.1" y="249.4" width="131.7" height="23" fill="url(#gR)" stroke="#444" stroke-width="0.8"/>
<text x="0" y="0" font-size="17" font-family='"Liberation Sans", sans-serif' fill="#fff" transform="matrix(0.9500,0.0000,0.0000,0.9250,523.85,266.60)">0</text>
<text x="0" y="0" font-size="17" font-family='"Liberation Sans", sans-serif' fill="#000" transform="matrix(0.9486,0.0000,0.0000,0.9417,466.95,267.00)">-0.03</text>
<text x="0" y="0" font-size="17" font-family='"Liberation Sans", sans-serif' fill="#000" transform="matrix(0.9344,0.0000,0.0000,0.9000,643.97,265.50)">0.35</text>
<text x="0" y="0" font-size="17.2" font-family='"Liberation Sans", sans-serif' fill="#000" transform="matrix(1.1922,0.0000,0.0000,0.8579,513.20,241.21)">&#916;&#961;(<tspan font-weight="bold">r</tspan>,t) [&#8722;e/a<tspan font-size="11.5" dy="4.5">0</tspan><tspan font-size="11.5" dx="-6.4" dy="-11">2</tspan><tspan dy="6.5">]</tspan></text>
<defs><linearGradient id="gSv" x1="0" y1="0" x2="0" y2="1"><stop offset="0" stop-color="#6a1a0c"/><stop offset="0.22" stop-color="#9a3a12"/><stop offset="0.36" stop-color="#c07a1c"/><stop offset="0.48" stop-color="#d0c040"/><stop offset="0.6" stop-color="#98d868"/><stop offset="0.74" stop-color="#50c4d8"/><stop offset="0.88" stop-color="#4c84e4"/><stop offset="1" stop-color="#4c5cd0"/></linearGradient><linearGradient id="gSh" x1="0" y1="0" x2="1" y2="0"><stop offset="0" stop-color="#000" stop-opacity="0.9"/><stop offset="0.38" stop-color="#000" stop-opacity="0.6"/><stop offset="0.55" stop-color="#000" stop-opacity="0.0"/><stop offset="0.78" stop-color="#fff" stop-opacity="0.1"/><stop offset="1" stop-color="#000" stop-opacity="0.2"/></linearGradient></defs>
<polygon points="134.0,327.5 294.2,332.8 161.2,392.4 2.8,386.0" fill="#40409e" stroke="#c6c6c2" stroke-width="2.2" stroke-linejoin="round"/>
<line x1="2.8" y1="386.8" x2="161.2" y2="393.2" stroke="#b4b4b4" stroke-width="2"/>
<path d="M112.1,337.2 L272.0,342.7 M90.3,347.0 L249.9,352.7 M68.4,356.8 L227.7,362.6 M46.5,366.5 L205.5,372.5 M24.7,376.2 L183.4,382.5 M210.9,330.0 L188.9,339.9 M166.9,349.7 L144.9,359.6 M144.9,359.6 L122.9,369.4 M100.8,379.2 L78.8,389.1" stroke="#c8c8c2" stroke-width="2.3"/>
<path d="M214.6,256.2 L215.4,256.2 Q217.6,293.6 219.3,331.0 L209.3,331.0 Q211.6,293.6 214.6,256.2 Z" fill="url(#gSv)"/>
<path d="M214.6,256.2 L215.4,256.2 Q217.6,293.6 219.3,331.0 L209.3,331.0 Q211.6,293.6 214.6,256.2 Z" fill="url(#gSh)"/>
<path d="M169.9,277.0 L170.8,277.0 Q172.9,314.0 174.7,351.0 L165.4,351.0 Q167.4,314.0 169.9,277.0 Z" fill="url(#gSv)"/>
<path d="M169.9,277.0 L170.8,277.0 Q172.9,314.0 174.7,351.0 L165.4,351.0 Q167.4,314.0 169.9,277.0 Z" fill="url(#gSh)"/>
<polygon points="310.0,329.8 470.3,335.2 336.0,394.7 179.4,389.2" fill="#40409e" stroke="#c6c6c2" stroke-width="2.2" stroke-linejoin="round"/>
<line x1="179.4" y1="390.0" x2="336.0" y2="395.5" stroke="#b4b4b4" stroke-width="2"/>
<path d="M288.2,339.7 L447.9,345.1 M266.5,349.6 L425.5,355.0 M244.7,359.5 L403.1,364.9 M222.9,369.4 L380.8,374.9 M201.2,379.3 L358.4,384.8 M386.9,332.4 L364.9,342.3 M342.8,352.2 L320.8,362.1 M320.8,362.1 L298.7,372.0 M276.6,381.9 L254.6,391.8" stroke="#c8c8c2" stroke-width="2.3"/>
<path d="M388.9,258.8 L389.8,258.8 Q392.1,296.4 394.0,334.0 L383.2,334.0 Q385.6,296.4 388.9,258.8 Z" fill="url(#gSv)"/>
<path d="M388.9,258.8 L389.8,258.8 Q392.1,296.4 394.0,334.0 L383.2,334.0 Q385.6,296.4 388.9,258.8 Z" fill="url(#gSh)"/>
<path d="M302.4,299.3 L303.3,299.3 Q306.3,336.2 308.6,373.2 L297.4,373.2 Q299.6,336.2 302.4,299.3 Z" fill="url(#gSv)"/>
<path d="M302.4,299.3 L303.3,299.3 Q306.3,336.2 308.6,373.2 L297.4,373.2 Q299.6,336.2 302.4,299.3 Z" fill="url(#gSh)"/>
<polygon points="502.4,327.3 664.0,331.2 532.3,391.2 370.4,386.6" fill="#40409e" stroke="#c6c6c2" stroke-width="2.2" stroke-linejoin="round"/>
<line x1="370.4" y1="387.4" x2="532.3" y2="392.0" stroke="#b4b4b4" stroke-width="2"/>
<path d="M480.4,337.2 L642.0,341.2 M458.4,347.1 L620.1,351.2 M436.4,357.0 L598.1,361.2 M414.4,366.8 L576.2,371.2 M392.4,376.7 L554.2,381.2 M580.0,329.2 L558.0,339.1 M536.0,349.1 L514.0,359.0 M514.0,359.0 L492.1,368.9 M470.1,378.9 L448.1,388.8" stroke="#c8c8c2" stroke-width="2.3"/>
<path d="M537.4,277.4 L538.4,277.4 Q540.7,314.2 542.6,351.0 L532.4,351.0 Q534.6,314.2 537.4,277.4 Z" fill="url(#gSv)"/>
<path d="M537.4,277.4 L538.4,277.4 Q540.7,314.2 542.6,351.0 L532.4,351.0 Q534.6,314.2 537.4,277.4 Z" fill="url(#gSh)"/>
<path d="M449.4,316.3 L450.2,316.3 Q452.4,351.9 454.2,387.5 L445.6,387.5 Q447.3,351.9 449.4,316.3 Z" fill="url(#gSv)"/>
<path d="M449.4,316.3 L450.2,316.3 Q452.4,351.9 454.2,387.5 L445.6,387.5 Q447.3,351.9 449.4,316.3 Z" fill="url(#gSh)"/>
<path d="M445.4,386.5 Q445,390 442.6,393.6 L447.2,390.2 Q449.9,389.4 452.6,390.2 L457.2,393.6 Q454.8,390 454.4,386.5 Z" fill="#26288a"/>
<text x="0" y="0" font-size="23" font-family='"Liberation Sans", sans-serif' font-weight="bold" fill="#000" transform="matrix(0.9750,0.0000,0.0000,0.8944,136.33,323.70)">b</text>
<text x="0" y="0" font-size="23" font-family='"Liberation Sans", sans-serif' font-weight="bold" fill="#000" transform="matrix(1.0182,0.0000,0.0000,0.9154,312.28,327.50)">c</text>
<text x="0" y="0" font-size="23" font-family='"Liberation Sans", sans-serif' font-weight="bold" fill="#000" transform="matrix(0.9750,0.0000,0.0000,0.8778,508.92,323.80)">d</text>
<path d="M676,328.8 L621,327.4 M676,328.8 L626,351" stroke="#111" stroke-width="2.2" fill="none"/>
<path d="M609.4,327 L623,321.8 L620.5,327.3 L622.6,333 Z" fill="#111"/>
<path d="M615,355.5 L624.8,344.2 L625.6,350.5 L630.8,353.9 Z" fill="#111"/>
<text x="0" y="0" font-size="16" font-family='"Liberation Sans", sans-serif' fill="#000" transform="matrix(1.0824,0.0000,0.0000,1.0437,631.60,321.52)">x [a<tspan font-size="9" dy="3.5" font-family='"Liberation Serif", serif'>0</tspan><tspan dy="-3.5">]</tspan></text>
<text transform="translate(644,362) rotate(-28)" font-size="18" font-family='"Liberation Sans", sans-serif'>y [a<tspan font-size="9" dy="3.5" font-family='"Liberation Serif", serif'>0</tspan><tspan dy="-3.5">]</tspan></text>
<rect x="1.3" y="401.6" width="2.2" height="24.9" fill="#111"/>
<text x="0" y="0" font-size="20" font-family='"Liberation Sans", sans-serif' fill="#000" transform="matrix(1.1500,0.0000,0.0000,1.0364,6.25,420.80)">s</text>
<path d="M19.0,402.2 L26.3,413.9 L19.0,425.7" fill="none" stroke="#111" stroke-width="2.3"/>
<rect x="78.0" y="402.4" width="2.2" height="24.6" fill="#111"/>
<text x="0" y="0" font-size="20" font-family='"Liberation Serif", serif' fill="#000" transform="matrix(1.0297,0.0000,0.0000,0.9714,80.94,420.60)">1100</text>
<path d="M122.9,402.6 L130.6,414.5 L122.9,426.4" fill="none" stroke="#111" stroke-width="1.4"/>
<text x="128.9" y="428.1" font-size="8" font-style="italic" fill="#666" font-family='"Liberation Serif", serif'>F</text>
<rect x="242.3" y="402.4" width="2.2" height="24.6" fill="#111"/>
<text x="0" y="0" font-size="20" font-family='"Liberation Serif", serif' fill="#000" transform="matrix(1.0297,0.0000,0.0000,0.9714,245.24,420.60)">1010</text>
<path d="M287.2,402.6 L294.9,414.5 L287.2,426.4" fill="none" stroke="#111" stroke-width="1.4"/>
<text x="293.2" y="428.1" font-size="8" font-style="italic" fill="#666" font-family='"Liberation Serif", serif'>F</text>
<rect x="434.9" y="402.4" width="2.2" height="24.6" fill="#111"/>
<text x="0" y="0" font-size="20" font-family='"Liberation Serif", serif' fill="#000" transform="matrix(1.0026,0.0000,0.0000,0.9714,438.90,420.60)">0101</text>
<path d="M479.8,402.6 L487.5,414.5 L479.8,426.4" fill="none" stroke="#111" stroke-width="1.4"/>
<text x="485.8" y="428.1" font-size="8" font-style="italic" fill="#666" font-family='"Liberation Serif", serif'>F</text>
</svg></body></html>
